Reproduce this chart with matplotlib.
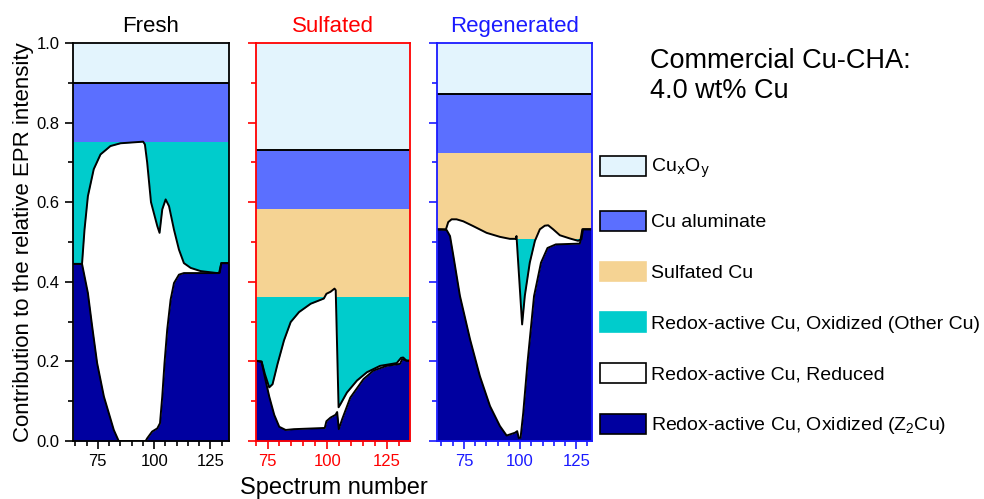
import numpy as np
import matplotlib
matplotlib.use('Agg')
import matplotlib.pyplot as plt
from matplotlib.patches import Patch
from matplotlib.ticker import MultipleLocator

plt.rcParams['font.family'] = ['Liberation Sans', 'DejaVu Sans']
plt.rcParams['mathtext.default'] = 'regular'

# colours of the species
c_cuxoy = '#e3f4fd'
c_alum = '#5b6fff'
c_sulf = '#f5d393'
c_other = '#00cccc'
c_red = '#ffffff'
c_z2cu = '#0000a0'

labels = [r'Cu$_\mathrm{x}$O$_\mathrm{y}$', 'Cu aluminate', 'Sulfated Cu',
          'Redox-active Cu, Oxidized (Other Cu)', 'Redox-active Cu, Reduced',
          r'Redox-active Cu, Oxidized (Z$_2$Cu)']

# ---- Fresh ----
# cumulative tops of the flat layers: other Cu, sulfated, aluminate, CuxOy
fresh_bands = [0.75, 0.75, 0.90, 1.00]
fresh_z_x = [64, 68.0, 70.6, 72.5, 74.7, 77.7, 82.1, 84.3, 96.2, 96.9, 99.1, 101.4,
             102.6, 103.6, 104.6, 105.8, 107.3, 108.8, 111.0, 113.2, 128.8, 129.8, 133.2]
fresh_z_top = [0.445, 0.445, 0.372, 0.288, 0.196, 0.112, 0.028, 0.0, 0.0, 0.007, 0.024, 0.032,
               0.045, 0.112, 0.196, 0.28, 0.355, 0.397, 0.418, 0.422, 0.422, 0.447, 0.447]
fresh_r_x = [64, 68.0, 69.1, 70.6, 73.2, 76.2, 80.6, 85.1, 95.1, 95.9, 96.9, 98.6, 101.4,
             102.4, 103.6, 105.1, 106.6, 108.8, 111.0, 113.2, 116.2, 120.6, 128.0, 129.1,
             129.8, 133.2]
fresh_r_top = [0.445, 0.445, 0.531, 0.615, 0.683, 0.72, 0.741, 0.748, 0.752, 0.745, 0.70,
               0.60, 0.54, 0.523, 0.582, 0.607, 0.59, 0.531, 0.481, 0.447, 0.435, 0.427,
               0.422, 0.423, 0.447, 0.447]

# ---- Sulfated ----
sulf_bands = [0.362, 0.582, 0.732, 1.00]
sulf_z_x = [70, 72.5, 73.9, 75.7, 77.8, 79.9, 82.6, 86.1, 99.0, 99.7, 101.4, 103.5, 104.2,
            104.9, 106.3, 109.7, 115.3, 119.4, 125.0, 130.6, 131.5, 133.3, 134.7]
sulf_z_top = [0.202, 0.199, 0.16, 0.112, 0.066, 0.036, 0.028, 0.03, 0.033, 0.05, 0.059, 0.066,
              0.073, 0.03, 0.055, 0.109, 0.156, 0.177, 0.189, 0.194, 0.206, 0.202, 0.202]
sulf_r_x = [70, 72.5, 73.9, 75.7, 77.1, 79.2, 81.9, 84.7, 88.2, 93.1, 98.6, 99.7, 101.4,
            103.1, 103.6, 104.8, 105.6, 108.3, 112.5, 116.7, 122.2, 129.2, 131.0, 131.9,
            133.3, 134.7]
sulf_r_top = [0.202, 0.2, 0.168, 0.135, 0.143, 0.194, 0.253, 0.299, 0.324, 0.345, 0.358, 0.37,
              0.375, 0.383, 0.379, 0.085, 0.093, 0.122, 0.152, 0.173, 0.189, 0.196, 0.209,
              0.21, 0.202, 0.202]

# ---- Regenerated ----
regen_bands = [0.507, 0.723, 0.871, 1.00]
regen_z_x = [63, 67.3, 68.8, 70.3, 73.2, 77.7, 82.1, 86.6, 91.0, 94.0, 97.7, 98.7, 99.4,
             100.2, 101.4, 103.3, 106.2, 109.3, 112.2, 115.9, 126.6, 127.7, 132]
regen_z_top = [0.532, 0.53, 0.515, 0.465, 0.365, 0.256, 0.163, 0.088, 0.038, 0.014, 0.021,
               0.025, 0.008, 0.008, 0.071, 0.197, 0.364, 0.448, 0.485, 0.494, 0.496, 0.532,
               0.532]
regen_r_x = [63, 67.0, 68.0, 69.5, 71.7, 74.7, 79.1, 85.1, 91.0, 95.4, 98.0, 98.4, 100.9,
             102.1, 104.3, 106.6, 108.8, 111.0, 112.5, 114.7, 117.7, 122.1, 125.8, 127.3,
             128.0, 132]
regen_r_top = [0.532, 0.532, 0.55, 0.557, 0.557, 0.552, 0.54, 0.523, 0.513, 0.508, 0.508,
               0.515, 0.293, 0.365, 0.448, 0.503, 0.532, 0.541, 0.542, 0.532, 0.517, 0.509,
               0.503, 0.507, 0.532, 0.532]


def draw_panel(ax, bands, z_x, z_top, r_x, r_top, col, xlim):
    span = [xlim[0], xlim[1]]
    other_top, sulf_top, alum_top, cuxoy_top = bands
    # painter's order: each layer filled from 0 to its cumulative top
    ax.fill_between(span, 0, cuxoy_top, color=c_cuxoy, lw=0)
    ax.fill_between(span, 0, alum_top, color=c_alum, lw=0)
    ax.fill_between(span, 0, sulf_top, color=c_sulf, lw=0)
    ax.fill_between(span, 0, other_top, color=c_other, lw=0)
    ax.fill_between(r_x, 0, r_top, color=c_red, lw=0)
    ax.fill_between(z_x, 0, z_top, color=c_z2cu, lw=0)
    ax.plot(span, [alum_top, alum_top], color='black', lw=1.4)
    ax.plot(r_x, r_top, color='black', lw=1.4)
    ax.plot(z_x, z_top, color='black', lw=1.4)

    ax.set_xlim(xlim)
    ax.set_ylim(0, 1.0)
    ax.xaxis.set_major_locator(MultipleLocator(25))
    ax.xaxis.set_minor_locator(MultipleLocator(5))
    ax.yaxis.set_major_locator(MultipleLocator(0.2))
    ax.yaxis.set_minor_locator(MultipleLocator(0.1))
    ax.tick_params(which='major', length=6, width=1.2, color=col, labelcolor=col, labelsize=12)
    ax.tick_params(which='minor', length=3.5, width=1.2, color=col)
    for s in ax.spines.values():
        s.set_color(col)
        s.set_linewidth(1.3)


fig = plt.figure(figsize=(9.84, 4.99), dpi=100)
bot, h = 0.116, 0.798
ax1 = fig.add_axes([0.0742, bot, 0.1585, h])
ax2 = fig.add_axes([0.2598, bot, 0.1567, h])
ax3 = fig.add_axes([0.4441, bot, 0.1575, h])

draw_panel(ax1, fresh_bands, fresh_z_x, fresh_z_top, fresh_r_x, fresh_r_top, 'black', (64, 133.2))
draw_panel(ax2, sulf_bands, sulf_z_x, sulf_z_top, sulf_r_x, sulf_r_top, '#ff0000', (70, 134.7))
draw_panel(ax3, regen_bands, regen_z_x, regen_z_top, regen_r_x, regen_r_top, '#1a1aff', (63, 132))

ax1.yaxis.set_major_formatter(matplotlib.ticker.FormatStrFormatter('%.1f'))
ax2.set_yticklabels([])
ax3.set_yticklabels([])

for ax, t, c in [(ax1, 'Fresh', 'black'), (ax2, 'Sulfated', '#ff0000'), (ax3, 'Regenerated', '#1a1aff')]:
    ax.text(0.5, 1.028, t, transform=ax.transAxes, ha='center', va='baseline', fontsize=16, color=c)

fig.text(0.024, 0.515, 'Contribution to the relative EPR intensity', rotation=90,
         ha='center', va='center', fontsize=16)
fig.text(0.339, 0.022, 'Spectrum number', ha='center', va='center', fontsize=17)
fig.text(650 / 984, 1 - 48 / 499, 'Commercial Cu-CHA:\n4.0 wt% Cu', ha='left', va='top', fontsize=19.5)

handles = [Patch(facecolor=c_cuxoy, edgecolor='black', lw=1.2),
           Patch(facecolor=c_alum, edgecolor='black', lw=1.2),
           Patch(facecolor=c_sulf, edgecolor=c_sulf, lw=1.2),
           Patch(facecolor=c_other, edgecolor=c_other, lw=1.2),
           Patch(facecolor=c_red, edgecolor='black', lw=1.2),
           Patch(facecolor=c_z2cu, edgecolor='black', lw=1.2)]
fig.legend(handles, labels, loc='upper left', bbox_to_anchor=(600 / 984, 1 - 156 / 499),
           frameon=False, fontsize=14, handlelength=2.37, handleheight=1.19,
           handletextpad=0.26, labelspacing=1.56, borderpad=0, borderaxespad=0)

plt.savefig('out.png', dpi=100)
